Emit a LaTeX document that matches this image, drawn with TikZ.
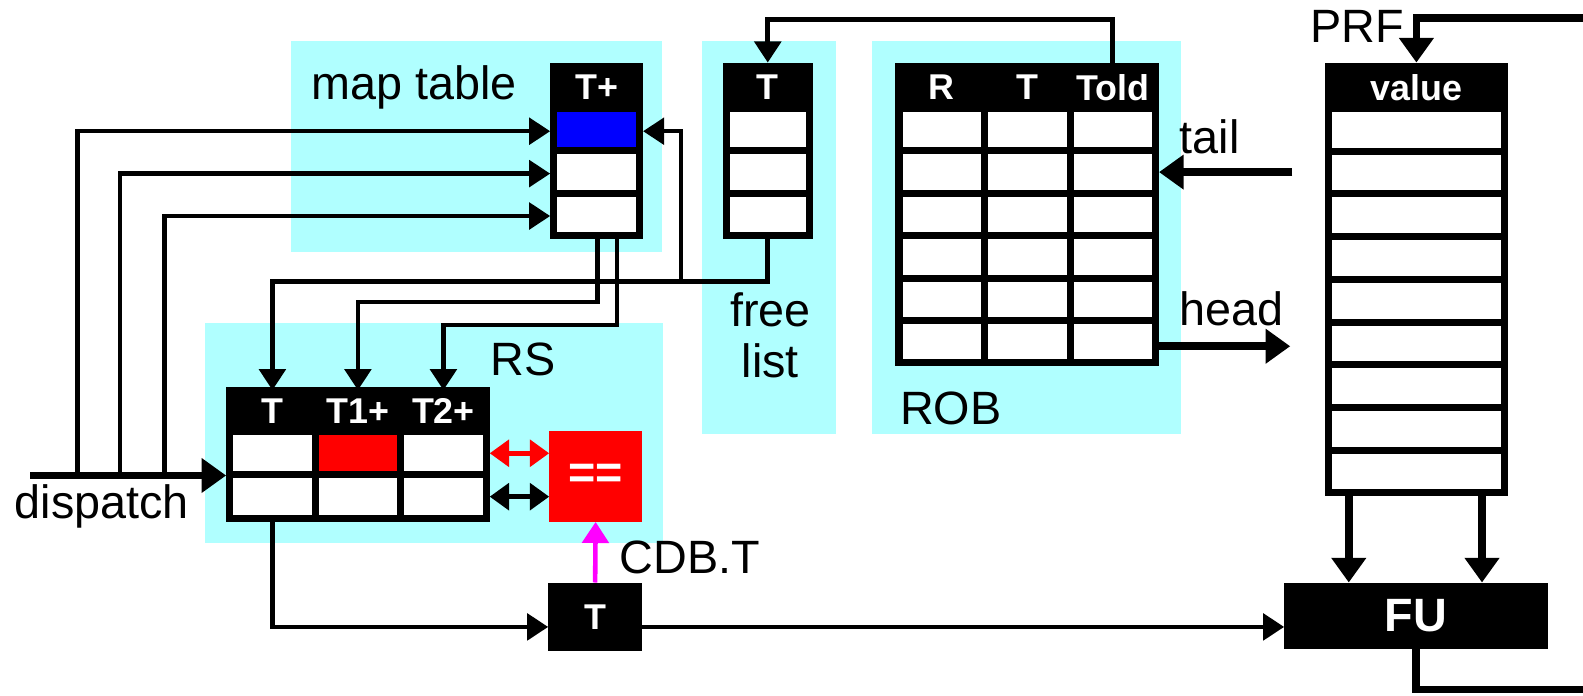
\documentclass[tikz,border=0pt]{standalone}
\usepackage{fontspec}
\setmainfont{Liberation Sans}
\usetikzlibrary{matrix,positioning,calc,arrows.meta}
\definecolor{BGC}{HTML}{B0FFFF}
\definecolor{CELLB}{HTML}{0000FF}
\definecolor{CELLR}{HTML}{FF0000}
\definecolor{CDBC}{HTML}{FF00FF}
\newdimen\pxu \pxu=0.10096mm
\newcommand\HDRF{\fontsize{10.2}{12}\selectfont\bfseries}
\newcommand\LBLF{\fontsize{13.3}{14.6}\selectfont}
\tikzset{
    TBL/.style={
        matrix of nodes,
        inner sep=0pt, outer sep=0pt, anchor=north west,
        column sep=-2pt, row sep=-2pt,
        nodes={draw, line width=2pt, fill=white, anchor=center,
               inner sep=0pt, outer sep=0pt,
               minimum width=84.7*\pxu, minimum height=42*\pxu},
        nodes in empty cells,
        row 1/.style={nodes={fill=black, text=white, font=\HDRF, minimum height=42*\pxu}},
    },
    BOX/.style={fill=black, text=white, font=\HDRF, inner sep=0pt, outer sep=0pt},
    LBL/.style={font=\LBLF, inner sep=0pt},
    BG/.style={fill=BGC},
    CONN/.style={line width=1.3pt, -{Triangle[length=6pt,width=7.5pt]}},
    BIG/.style={line width=2.2pt, -{Triangle[length=7pt,width=9.5pt]}},
    DBL/.style={line width=1.5pt, {Triangle[length=5.5pt,width=7.5pt]}-{Triangle[length=5.5pt,width=7.5pt]}},
}

\begin{document}
\begin{tikzpicture}[x=\pxu, y=-\pxu]
    \useasboundingbox (0,0) rectangle (1568,689);
    % shaded areas
    \fill[BG] (288,41) rectangle (656,250);
    \fill[BG] (695,41) rectangle (828,430);
    \fill[BG] (864,41) rectangle (1170,430);
    \fill[BG] (203,320) rectangle (657,538);

    \matrix[TBL, nodes={minimum width=85*\pxu}] (mt) at (545,62) { % map table
        T+ \\ |[fill=CELLB]| \\ \\ \\
    };
    \matrix[TBL, nodes={minimum width=82*\pxu}] (fl) at (716,62) { % free list
        T \\ \\ \\ \\
    };
    \matrix[TBL] (rob) at (887,62) { % ROB
        R & T & Told \\
        & & \\
        & & \\
        & & \\
        & & \\
        & & \\
        & & \\
    };
    \matrix[TBL, nodes={minimum width=175*\pxu, minimum height=42.3*\pxu}] (prf) at (1312,62) { % PRF
        value \\ \\ \\ \\ \\ \\ \\ \\ \\ \\
    };
    \matrix[TBL, nodes={minimum height=43*\pxu},
        row 1/.append style={nodes={minimum height=41*\pxu}}] (rs) at (224,383) { % RS
        T & T1+ & T2+ \\
        & |[fill=CELLR]| & \\
        & & \\
    };

    \node[BOX, fill=CELLR, font=\LBLF\bfseries, minimum width=92*\pxu, minimum height=90*\pxu] (eq) at (590,472) {==};
    \node[BOX, minimum width=93*\pxu, minimum height=68*\pxu] (tb) at (589.5,611) {T};
    \node[BOX, font=\LBLF\bfseries, minimum width=261*\pxu, minimum height=66*\pxu] (fu) at (1402.5,610) {FU};

    \node[LBL, anchor=base west] (mtlbl) at (308,99) {map table};
    \node[LBL, align=center] (fllbl) at (763,332) {free\\list};
    \node[LBL, anchor=base west] (roblbl) at (891,420) {ROB};
    \node[LBL, anchor=base] (rslbl) at (518,372) {RS};
    \node[LBL, anchor=base west] (taillbl) at (1168,152) {tail};
    \node[LBL, anchor=base west] (headlbl) at (1168,322) {head};
    \node[LBL, anchor=base west] (prflbl) at (1297,42) {PRF};
    \node[LBL, anchor=base west] (cdblbl) at (613,568) {CDB.T};
    \node[LBL, anchor=base west] (dsplbl) at (14,514) {dispatch};

    % dispatch
    \coordinate (dsp) at (30,471);
    \draw[BIG] (dsp) -- (rs.west |- dsp);
    \foreach \xx/\rw in {77/2,119/3,163/4}{
        \coordinate (dsp\rw) at (\xx,471);
        \draw[CONN] (dsp\rw) |- ([yshift=-1.5*\pxu]mt.west |- mt-\rw-1);
    }
    % free list
    \draw[CONN] (fl.south) -- ++(0,42) coordinate (flj) -| (rs-1-1.north);
    \coordinate (flup) at ($(flj)+(-86,0)$);
    \draw[CONN] (flup) |- ([yshift=-1.5*\pxu]mt.east |- mt-2-1);
    % map table -> RS
    \draw[CONN] ([xshift=1*\pxu]mt.south) -- ++(0,62) -| (rs-1-2.north);
    \draw[CONN] ([xshift=20*\pxu]mt.south) -- ++(0,85) -| (rs-1-3.north);
    % ROB
    \draw[CONN] (rob-1-3.north) -- ++(0,-46) -| (fl.north);
    \coordinate (tailp) at (1280,170);
    \coordinate (headp) at (1278,343);
    \draw[BIG] (tailp |- rob-3-3) -- (rob.east |- rob-3-3);
    \draw[BIG] ([yshift=-4.5*\pxu]rob.east |- rob-7-3) -- ([yshift=-4.5*\pxu]headp |- rob-7-3);
    % PRF and FU
    \coordinate (fbtop) at (1568,18);
    \coordinate (fbbot) at (1568,683);
    \draw[BIG] (fbtop) -| (prf.north);
    \draw[BIG] ([xshift=24*\pxu]prf.south west) -- ([xshift=24*\pxu]prf.south west |- fu.north);
    \draw[BIG] ([xshift=-26*\pxu]prf.south east) -- ([xshift=-26*\pxu]prf.south east |- fu.north);
    \draw[line width=2.2pt] (fu.south) |- (fbbot);
    % RS -> T -> FU
    \draw[CONN] (rs-3-1.south) |- ([yshift=-10*\pxu]tb.west);
    \draw[CONN] ([yshift=-10*\pxu]tb.east) -- ([yshift=-10*\pxu]tb.east -| fu.west);
    \draw[CONN, CDBC] (tb.north) -- (eq.south);
    \draw[DBL, CELLR] (rs.east |- rs-2-3) -- (eq.west |- rs-2-3);
    \draw[DBL] (rs.east |- rs-3-3) -- (eq.west |- rs-3-3);
\end{tikzpicture}
\end{document}
